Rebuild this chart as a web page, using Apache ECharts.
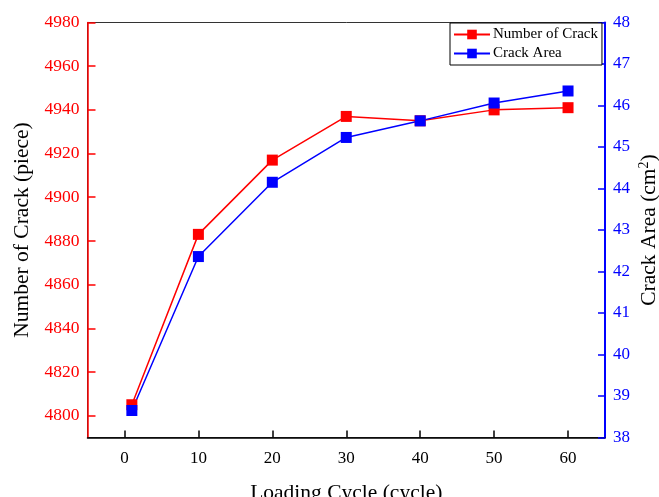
<!DOCTYPE html>
<html>
<head>
<meta charset="utf-8">
<script src="https://cdn.jsdelivr.net/npm/echarts@6/dist/echarts.min.js"></script>
<style>html,body{margin:0;padding:0;background:#fff;}#c{width:659px;height:497px;}</style>
</head>
<body>
<div id="c"></div>
<script>
const cycles = [1, 10, 20, 30, 40, 50, 60];
const crackNumber = [4805, 4883, 4917, 4937, 4935, 4940, 4941];
const crackArea = [38.65, 42.36, 44.15, 45.23, 45.63, 46.06, 46.35];
const xTicks = [0, 10, 20, 30, 40, 50, 60];
const leftTicks = [4800, 4820, 4840, 4860, 4880, 4900, 4920, 4940, 4960, 4980];

const FONT = 'Liberation Serif';
const chart = echarts.init(document.getElementById('c'), null, {renderer: 'canvas'});
chart.setOption({
  backgroundColor: '#fff',
  animation: false,
  textStyle: {fontFamily: FONT},
  grid: {left: 87.5, right: 54, top: 22.5, bottom: 59.5, show: true, borderColor: '#333', borderWidth: 1, containLabel: false, outerBoundsMode: 'none'},
  legend: {
    left: 450, top: 23, orient: 'vertical', width: 152,
    backgroundColor: '#fff', borderColor: '#000', borderWidth: 1,
    padding: [4, 4, 4, 3], itemGap: 4, itemWidth: 36, itemHeight: 12,
    textStyle: {fontFamily: FONT, fontSize: 15, color: '#000', padding: [0, 0, 0, -2]},
    data: ['Number of Crack', 'Crack Area']
  },
  xAxis: {
    type: 'value', min: -5, max: 65,
    name: 'Loading Cycle (cycle)', nameLocation: 'middle', nameGap: 45,
    nameTextStyle: {fontFamily: FONT, fontSize: 21.5, color: '#000'},
    axisLine: {show: true, onZero: false, lineStyle: {color: '#000', width: 1.5}},
    axisTick: {show: true, inside: true, length: 7, customValues: xTicks, lineStyle: {color: '#000', width: 1.5}},
    axisLabel: {customValues: xTicks, fontFamily: FONT, fontSize: 17, color: '#000', margin: 13},
    splitLine: {show: false}
  },
  yAxis: [{
    type: 'value', min: 4790, max: 4980, position: 'left',
    name: 'Number of Crack (piece)', nameLocation: 'middle', nameGap: 53, nameRotate: 90,
    nameTextStyle: {fontFamily: FONT, fontSize: 21.5, color: '#000'},
    axisLine: {show: true, onZero: false, lineStyle: {color: '#ff0000', width: 1.5}},
    axisTick: {show: true, inside: true, length: 8, customValues: leftTicks, lineStyle: {color: '#ff0000', width: 1.5}},
    axisLabel: {customValues: leftTicks, formatter: v => String(v), fontFamily: FONT, fontSize: 17.5, color: '#ff0000', margin: 8},
    splitLine: {show: false}
  }, {
    type: 'value', min: 38, max: 48, interval: 1, position: 'right',
    name: 'Crack Area (cm{sup|2})', nameLocation: 'middle', nameGap: 32, nameRotate: 90, nameMoveOverlap: false,
    nameTextStyle: {fontFamily: FONT, fontSize: 21.5, color: '#000', rich: {sup: {fontFamily: FONT, fontSize: 14, verticalAlign: 'bottom', padding: [0, 0, 10, 0], color: '#000'}}},
    axisLine: {show: true, onZero: false, lineStyle: {color: '#0000ff', width: 2}},
    axisTick: {show: true, inside: true, length: 7, lineStyle: {color: '#0000ff', width: 1.5}},
    axisLabel: {formatter: v => String(v), fontFamily: FONT, fontSize: 17, color: '#0000ff', margin: 8},
    splitLine: {show: false}
  }],
  series: [{
    name: 'Number of Crack', type: 'line', yAxisIndex: 0,
    data: cycles.map((c, i) => [c, crackNumber[i]]),
    symbol: 'rect', symbolSize: 11, color: '#ff0000',
    lineStyle: {color: '#ff0000', width: 1.5},
    itemStyle: {color: '#ff0000'}
  }, {
    name: 'Crack Area', type: 'line', yAxisIndex: 1,
    data: cycles.map((c, i) => [c, crackArea[i]]),
    symbol: 'rect', symbolSize: 11, color: '#0000ff',
    lineStyle: {color: '#0000ff', width: 1.5},
    itemStyle: {color: '#0000ff'}
  }]
});
</script>
</body>
</html>
